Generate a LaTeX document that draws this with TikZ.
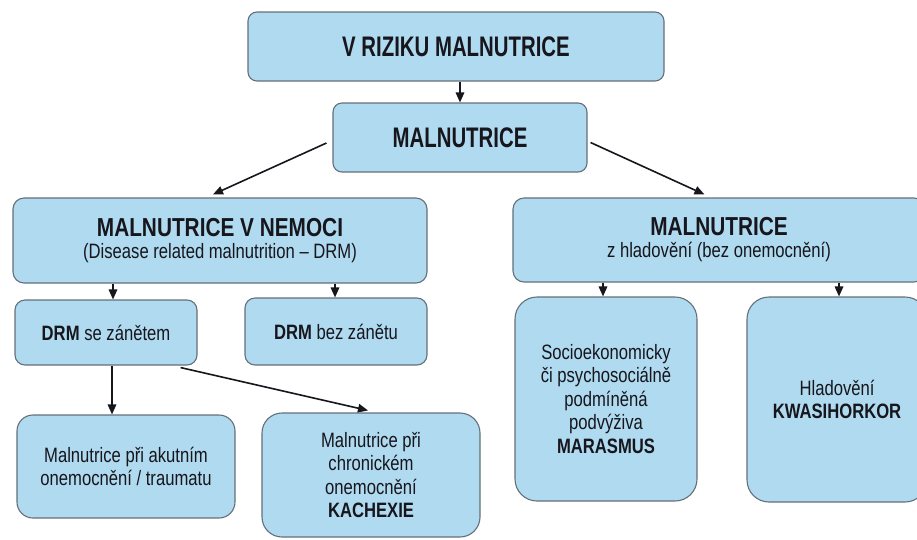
\documentclass[tikz,border=0pt]{standalone}
\usepackage{fontspec}
\setmainfont{Liberation Sans}[FakeStretch=0.8]
\newfontfamily\condfont{Liberation Sans}[FakeStretch=0.72]
\usetikzlibrary{arrows.meta,calc}
\definecolor{boxfill}{RGB}{176,218,240}
\definecolor{boxline}{RGB}{100,112,122}
\definecolor{ink}{RGB}{22,22,28}
\begin{document}
\begin{tikzpicture}[x=1pt,y=-1pt,
  box/.style={draw=boxline, line width=1.1pt, fill=boxfill, rounded corners=#1,
    inner sep=0pt, text=ink, align=center, font=\fontsize{20.8}{23.5}\selectfont},
  box/.default=10pt,
  cond/.style={font=\condfont\bfseries\fontsize{28.3}{30}\selectfont},
  ttl/.style={font=\fontsize{20.8}{22}\selectfont},
  arr/.style={-{Triangle[length=10pt,width=8.5pt]}, line width=1.6pt, draw=ink}]
\useasboundingbox (0,0) rectangle (917,539);
\fill[white] (0,0) rectangle (917,539);
\clip (0,0) rectangle (917,539);

% level 0 and 1
\node[box=9pt, cond, minimum width=416pt, minimum height=69pt] (top) at (456,46.5) {V RIZIKU MALNUTRICE};
\node[box=9pt, cond, minimum width=254pt, minimum height=69pt] (mid) at (460,137.5) {MALNUTRICE};

% level 2
\node[box=11pt, ttl, minimum width=414pt, minimum height=85pt] (nemoc) at (220,240.5)
  {{\bfseries\fontsize{26}{26}\selectfont MALNUTRICE V NEMOCI}\\(Disease related malnutrition -- DRM)};
\node[box=11pt, ttl, minimum width=412pt, minimum height=84pt] (hlad) at (719,240)
  {{\bfseries\fontsize{26}{26}\selectfont MALNUTRICE}\\z hladovění (bez onemocnění)};

% level 3
\node[box=10pt, minimum width=182pt, minimum height=65pt] (drmz) at (106,332.5) {\textbf{DRM} se zánětem};
\node[box=10pt, minimum width=182pt, minimum height=67pt] (drmb) at (336,331.5) {\textbf{DRM} bez zánětu};
\node[box=22pt, minimum width=182pt, minimum height=204pt] (socio) at (606,399)
  {Socioekonomicky\\či psychosociálně\\podmíněná\\podvýživa\\\textbf{MARASMUS}};
\node[box=22pt, minimum width=180pt, minimum height=205pt] (kwas) at (837,399.5)
  {Hladovění\\\textbf{KWASIHORKOR}};

% level 4
\node[box=16pt, minimum width=218pt, minimum height=103pt] (akut) at (126,466.5)
  {Malnutrice při akutním\\onemocnění / traumatu};
\node[box=20pt, minimum width=218pt, minimum height=124pt] (chron) at (371,475)
  {Malnutrice při\\chronickém\\onemocnění\\\textbf{KACHEXIE}};

% connectors
\draw[arr] (mid.north |- top.south) -- (mid.north);
\draw[arr] ($(mid.west)+(-6,5.5)$) -- ($(nemoc.north)+(-7,-3)$);
\draw[arr] ($(mid.east)+(3,5)$) -- ($(hlad.north west)+(192,-3)$);
\draw[arr] ([xshift=7pt]drmz.north |- nemoc.south) -- ([xshift=7pt]drmz.north);
\draw[arr] ([xshift=-1pt]drmb.north |- nemoc.south) -- ([xshift=-1pt]drmb.north);
\draw[arr] ([xshift=6pt]drmz.south) -- ([xshift=6pt]drmz.south |- akut.north);
\draw[arr] ([xshift=-17pt,yshift=-2pt]drmz.south east) -- ([xshift=-3pt,yshift=2pt]chron.north);
\draw[arr] ([xshift=-3pt]socio.north |- hlad.south) -- ([xshift=-3pt]socio.north);
\draw[arr] ([xshift=2pt]kwas.north |- hlad.south) -- ([xshift=2pt]kwas.north);
\end{tikzpicture}
\end{document}
